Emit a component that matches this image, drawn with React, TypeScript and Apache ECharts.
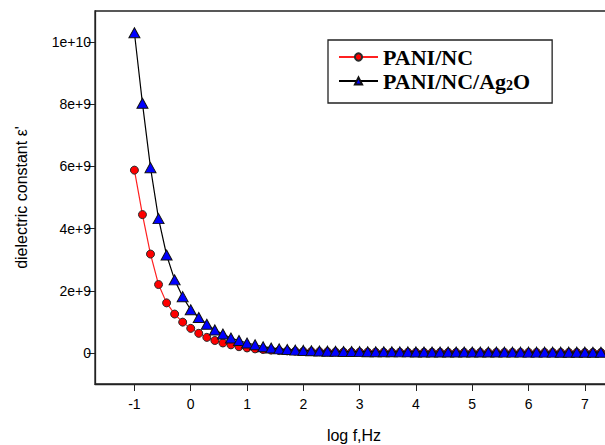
import React, { useEffect, useRef } from "react";
import * as echarts from "echarts";

// log10 of frequency: one sample every 1/7 decade, starting at -1
const logFreq: number[] = [];
for (let k = 0; k <= 58; k++) logFreq.push(-1 + k / 7);

// dielectric constant, in units of 1e9
const paniNc: number[] = [
  5.88, 4.45, 3.18, 2.2, 1.61, 1.25, 0.99, 0.79, 0.63, 0.5,
  0.4, 0.32, 0.26, 0.2, 0.16, 0.13, 0.11, 0.09, 0.075, 0.065,
  0.056, 0.05, 0.045, 0.04, 0.037, 0.034, 0.031, 0.029, 0.027, 0.026,
  0.025, 0.024, 0.023, 0.022, 0.021, 0.021, 0.02, 0.02, 0.019, 0.019,
  0.018, 0.018, 0.018, 0.017, 0.017, 0.017, 0.016, 0.016, 0.016, 0.016,
  0.015, 0.015, 0.015, 0.015, 0.015, 0.014, 0.014, 0.014, 0.014,
];
const paniNcAg2O: number[] = [
  10.3, 8.03, 5.96, 4.32, 3.15, 2.35, 1.81, 1.39, 1.14, 0.92,
  0.74, 0.61, 0.48, 0.4, 0.32, 0.26, 0.2, 0.16, 0.13, 0.11,
  0.09, 0.08, 0.07, 0.062, 0.056, 0.051, 0.047, 0.044, 0.041, 0.039,
  0.037, 0.036, 0.035, 0.034, 0.033, 0.032, 0.031, 0.03, 0.03, 0.029,
  0.029, 0.028, 0.028, 0.027, 0.027, 0.027, 0.026, 0.026, 0.026, 0.025,
  0.025, 0.025, 0.025, 0.024, 0.024, 0.024, 0.024, 0.023, 0.023,
];

const xTicks: number[] = [-1, 0, 1, 2, 3, 4, 5, 6, 7];
const yTicks: number[] = [0, 2e9, 4e9, 6e9, 8e9, 1e10];
const yTickLabels: string[] = ["0", "2e+9", "4e+9", "6e+9", "8e+9", "1e+10"];

const seriesNames: string[] = ["PANI/NC", "PANI/NC/Ag2O"];

export default function App() {
  const ref = useRef<HTMLDivElement>(null);

  useEffect(() => {
    if (!ref.current) return;
    const chart = echarts.init(ref.current, null, { renderer: "svg" });
    const toPairs = (vals: number[]) => vals.map((v, i) => [logFreq[i], v * 1e9]);
    const sans = "Liberation Sans, Arial, sans-serif";
    chart.setOption({
      animation: false,
      backgroundColor: "#ffffff",
      grid: {
        left: 95,
        top: 11,
        right: -8,
        bottom: 61,
        outerBoundsMode: "none",
        containLabel: false,
        show: true,
        borderColor: "#222",
        borderWidth: 1.3,
        backgroundColor: "transparent",
      },
      legend: {
        orient: "vertical",
        left: 328,
        top: 40,
        padding: [6, 22, 11, 10],
        itemWidth: 39,
        itemHeight: 9,
        itemGap: 2,
        borderColor: "#222",
        borderWidth: 1.3,
        data: seriesNames,
        formatter: (name: string) =>
          name === "PANI/NC/Ag2O" ? "{t|PANI/NC/Ag}{s|2}{t|O}" : "{t|" + name + "}",
        textStyle: {
          rich: {
            t: {
              fontFamily: "Liberation Serif, Times New Roman, serif",
              fontWeight: "bold",
              fontSize: 22,
              color: "#000",
            },
            s: {
              fontFamily: "Liberation Serif, Times New Roman, serif",
              fontWeight: "bold",
              fontSize: 14,
              color: "#000",
              verticalAlign: "bottom",
              padding: [8, 0, 0, 0],
            },
          },
        },
      },
      xAxis: {
        type: "value",
        min: -1.7,
        max: 7.5,
        name: "log f,Hz",
        nameLocation: "middle",
        nameGap: 42,
        nameTextStyle: { fontFamily: sans, fontSize: 16, color: "#000", lineHeight: 18 },
        splitLine: { show: false },
        axisLine: { onZero: false, lineStyle: { color: "#222", width: 1.3 } },
        axisTick: { inside: false, length: 7, customValues: xTicks, lineStyle: { color: "#222" } },
        axisLabel: {
          customValues: xTicks,
          fontFamily: sans,
          fontSize: 14,
          color: "#000",
          margin: 13,
        },
      },
      yAxis: {
        type: "value",
        min: -1e9,
        max: 1.1e10,
        name: "dielectric constant \u03b5'",
        nameLocation: "middle",
        nameGap: 66,
        nameTextStyle: { fontFamily: sans, fontSize: 16, color: "#000" },
        splitLine: { show: false },
        axisLine: { onZero: false, lineStyle: { color: "#222", width: 1.3 } },
        axisTick: { inside: false, length: 8, customValues: yTicks, lineStyle: { color: "#222" } },
        axisLabel: {
          customValues: yTicks,
          fontFamily: sans,
          fontSize: 14,
          color: "#000",
          margin: 4,
          formatter: (v: number) => {
            const i = yTicks.indexOf(v);
            return i >= 0 ? yTickLabels[i] : "";
          },
        },
      },
      series: [
        {
          name: seriesNames[0],
          type: "line",
          data: toPairs(paniNc),
          symbol: "circle",
          symbolSize: 8,
          itemStyle: { color: "#ff0000", borderColor: "#2a2a2a", borderWidth: 1 },
          lineStyle: { color: "#ff2020", width: 1.2 },
          z: 2,
        },
        {
          name: seriesNames[1],
          type: "line",
          data: toPairs(paniNcAg2O),
          symbol: "triangle",
          symbolSize: [11, 10],
          itemStyle: { color: "#0000ff", borderColor: "#111", borderWidth: 1 },
          lineStyle: { color: "#000", width: 1.2 },
          z: 3,
        },
      ],
    });
    return () => chart.dispose();
  }, []);

  return (
    <div
      ref={ref}
      style={{ position: "fixed", left: 0, top: 0, width: 605, height: 445, background: "#fff" }}
    />
  );
}
